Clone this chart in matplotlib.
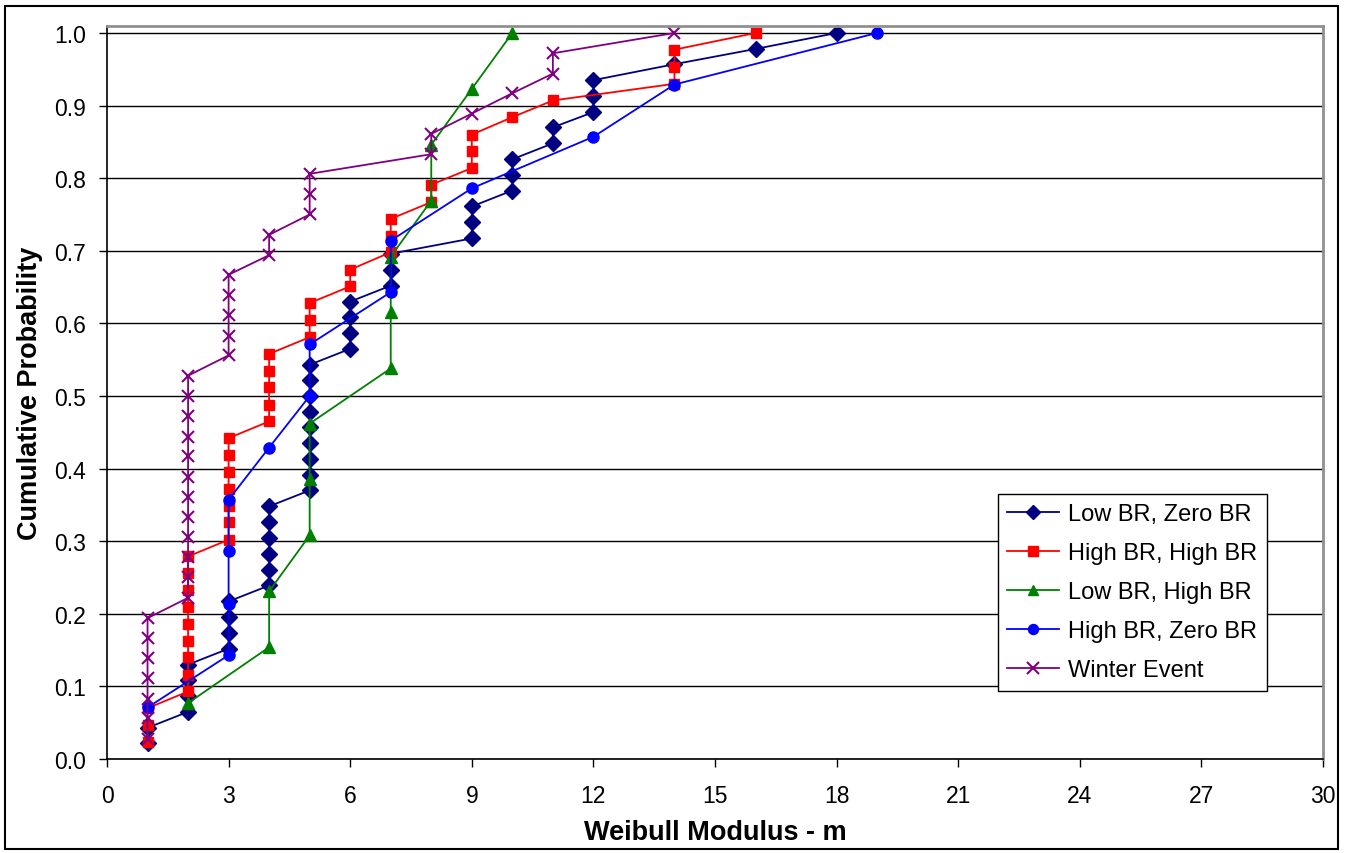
import matplotlib
matplotlib.use("Agg")
import matplotlib.pyplot as plt
from matplotlib.patches import Rectangle

plt.rcParams['font.family'] = ['Liberation Sans', 'DejaVu Sans']

# Low BR, Zero BR
low_zero_x = [1, 1, 2, 2, 2, 2, 3, 3, 3, 3, 4, 4, 4, 4, 4, 4,
              5, 5, 5, 5, 5, 5, 5, 5, 5, 6, 6, 6, 6, 7, 7, 7,
              9, 9, 9, 10, 10, 10, 11, 11, 12, 12, 12, 14, 16, 18]
low_zero_y = [0.022, 0.043, 0.065, 0.087, 0.109, 0.130, 0.152, 0.174, 0.196, 0.217,
              0.239, 0.261, 0.283, 0.304, 0.326, 0.348,
              0.370, 0.391, 0.413, 0.435, 0.457, 0.478, 0.500, 0.522, 0.543,
              0.565, 0.587, 0.609, 0.630, 0.652, 0.674, 0.696,
              0.717, 0.739, 0.761, 0.783, 0.804, 0.826, 0.848, 0.870,
              0.891, 0.913, 0.935, 0.957, 0.978, 1.000]

# High BR, High BR
high_high_x = [1, 1, 1, 2, 2, 2, 2, 2, 2, 2, 2, 2, 3, 3, 3, 3, 3, 3, 3,
               4, 4, 4, 4, 4, 5, 5, 5, 6, 6, 7, 7, 7, 8, 8, 9, 9, 9,
               10, 11, 14, 14, 14, 16]
high_high_y = [0.023, 0.047, 0.070, 0.093, 0.116, 0.140, 0.163, 0.186, 0.209, 0.233,
               0.256, 0.279, 0.302, 0.326, 0.349, 0.372, 0.395, 0.419, 0.442,
               0.465, 0.488, 0.512, 0.535, 0.558, 0.581, 0.605, 0.628,
               0.651, 0.674, 0.698, 0.721, 0.744, 0.767, 0.791,
               0.814, 0.837, 0.860, 0.884, 0.907, 0.930, 0.953, 0.977, 1.000]

# Low BR, High BR
low_high_x = [2, 4, 4, 5, 5, 5, 7, 7, 7, 8, 8, 9, 10]
low_high_y = [0.077, 0.154, 0.231, 0.308, 0.385, 0.462, 0.538, 0.615, 0.692,
              0.769, 0.846, 0.923, 1.000]

# High BR, Zero BR
high_zero_x = [1, 3, 3, 3, 3, 4, 5, 5, 7, 7, 9, 12, 14, 19]
high_zero_y = [0.071, 0.143, 0.214, 0.286, 0.357, 0.429, 0.500, 0.571, 0.643,
               0.714, 0.786, 0.857, 0.929, 1.000]

# Winter Event
winter_x = [1, 1, 1, 1, 1, 1, 1, 2, 2, 2, 2, 2, 2, 2, 2, 2, 2, 2, 2,
            3, 3, 3, 3, 3, 4, 4, 5, 5, 5, 8, 8, 9, 10, 11, 11, 14]
winter_y = [0.028, 0.056, 0.083, 0.111, 0.139, 0.167, 0.194,
            0.222, 0.250, 0.278, 0.306, 0.333, 0.361, 0.389, 0.417, 0.444,
            0.472, 0.500, 0.528, 0.556, 0.583, 0.611, 0.639, 0.667,
            0.694, 0.722, 0.750, 0.778, 0.806, 0.833, 0.861, 0.889,
            0.917, 0.944, 0.972, 1.000]

labels = ["Low BR, Zero BR", "High BR, High BR", "Low BR, High BR",
          "High BR, Zero BR", "Winter Event"]
x_ticks = [0, 3, 6, 9, 12, 15, 18, 21, 24, 27, 30]
y_ticks = [0.0, 0.1, 0.2, 0.3, 0.4, 0.5, 0.6, 0.7, 0.8, 0.9, 1.0]

fig = plt.figure(figsize=(13.5, 8.54), dpi=100)
ax = fig.add_axes([107/1350, 1 - 760/854, (1323-107)/1350, (760-27)/854])

series = [
    (low_zero_x, low_zero_y, '#000080', 'D', 7.8, {}),
    (high_high_x, high_high_y, '#FF0000', 's', 7.5, {}),
    (low_high_x, low_high_y, '#008000', '^', 8.5, {}),
    (high_zero_x, high_zero_y, '#0000FF', 'o', 8, {}),
    (winter_x, winter_y, '#800080', 'x', 9, {'markeredgewidth': 1.5}),
]
for (xs, ys, c, m, ms, kw), lab in zip(series, labels):
    ax.plot(xs, ys, color=c, marker=m, markersize=ms, linewidth=1.3,
            markerfacecolor=c, markeredgecolor=c, label=lab, clip_on=False, **kw)

ax.set_xlim(0, 30)
ax.set_ylim(0, 1.0096)
ax.set_xticks(x_ticks)
ax.set_yticks(y_ticks)
ax.set_yticklabels([f"{v:.1f}" for v in y_ticks])
ax.yaxis.grid(True, color='black', linewidth=1.0)
ax.set_axisbelow(True)
ax.tick_params(axis='both', direction='out', length=6, width=1, labelsize=16.5,
               colors='black')
ax.tick_params(axis='x', pad=12)
ax.tick_params(axis='y', pad=9)
for s in ['left', 'bottom']:
    ax.spines[s].set_color('black')
    ax.spines[s].set_linewidth(1.2)
for s in ['top', 'right']:
    ax.spines[s].set_color('#909090')
    ax.spines[s].set_linewidth(2)

ax.set_xlabel("Weibull Modulus - m", fontsize=19.5, fontweight='bold', labelpad=9)
ax.set_ylabel("Cumulative Probability", fontsize=19.5, fontweight='bold', labelpad=8)

leg = ax.legend(loc='lower right', bbox_to_anchor=(0.954, 0.093), fontsize=17,
                frameon=True, fancybox=False, shadow=False, framealpha=1,
                edgecolor='black', handlelength=2.2, borderpad=0.4,
                labelspacing=0.72, handletextpad=0.4, borderaxespad=0)
leg.get_frame().set_linewidth(1.0)
for h in leg.legend_handles:
    h.set_markersize(h.get_markersize() * 0.9)

fig.patches.append(Rectangle((5/1350, 1 - 850/854), (1338-5)/1350, (850-7)/854,
                             transform=fig.transFigure, fill=False,
                             edgecolor='black', linewidth=1.5))

fig.savefig("out.png", dpi=100)
